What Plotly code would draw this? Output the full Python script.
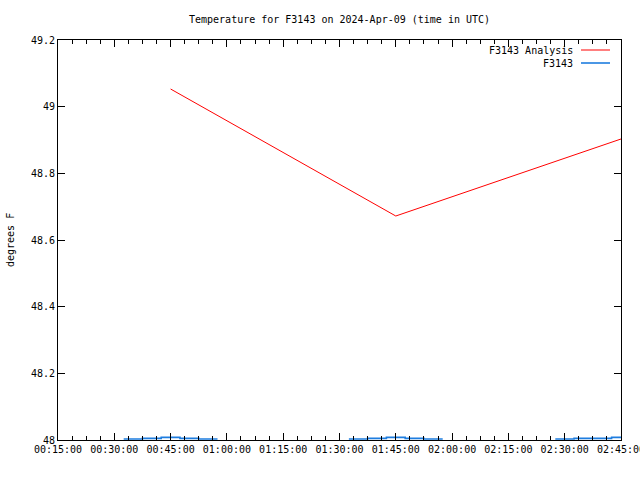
import plotly.graph_objects as go

# Analysis series
analysis_times = ["2024-04-09 00:45:00", "2024-04-09 01:45:00", "2024-04-09 02:45:00"]
analysis_temps = [49.053, 48.672, 48.903]

# Observed series (step segments near the bottom of the axis)
obs_times = [
    "2024-04-09 00:32:30", "2024-04-09 00:37:30", "2024-04-09 00:42:30",
    "2024-04-09 00:47:30", "2024-04-09 00:52:30", "2024-04-09 00:57:30",
    None,
    "2024-04-09 01:32:30", "2024-04-09 01:37:30", "2024-04-09 01:42:30",
    "2024-04-09 01:47:30", "2024-04-09 01:52:30", "2024-04-09 01:57:30",
    None,
    "2024-04-09 02:27:30", "2024-04-09 02:32:30", "2024-04-09 02:42:30",
    "2024-04-09 02:50:00",
]
obs_temps = [
    48.003, 48.005, 48.008, 48.005, 48.003, 48.003,
    None,
    48.003, 48.005, 48.008, 48.005, 48.003, 48.003,
    None,
    48.003, 48.005, 48.008, 48.008,
]

tick_vals = ["2024-04-09 00:15:00", "2024-04-09 00:30:00", "2024-04-09 00:45:00",
             "2024-04-09 01:00:00", "2024-04-09 01:15:00", "2024-04-09 01:30:00",
             "2024-04-09 01:45:00", "2024-04-09 02:00:00", "2024-04-09 02:15:00",
             "2024-04-09 02:30:00", "2024-04-09 02:45:00"]
tick_text = ["00:15:00", "00:30:00", "00:45:00", "01:00:00", "01:15:00", "01:30:00",
             "01:45:00", "02:00:00", "02:15:00", "02:30:00", "02:45:00"]
y_ticks = [48, 48.2, 48.4, 48.6, 48.8, 49, 49.2]
y_text = ["48", "48.2", "48.4", "48.6", "48.8", "49", "49.2"]

FONT = "DejaVu Sans Mono"
RED = "#ff0000"
BLUE = "#1e7ddf"

fig = go.Figure()
fig.add_trace(go.Scatter(x=analysis_times, y=analysis_temps, mode="lines",
                         name="F3143 Analysis", line=dict(color=RED, width=1)))
fig.add_trace(go.Scatter(x=obs_times, y=obs_temps, mode="lines", name="F3143",
                         line=dict(color=BLUE, width=1.6, shape="hv"), connectgaps=False))

fig.update_layout(
    width=640, height=480,
    margin=dict(l=58, r=19, t=40, b=40, autoexpand=False),
    paper_bgcolor="white", plot_bgcolor="white",
    showlegend=False,
    font=dict(family=FONT, size=10, color="black"),
    title=dict(text="Temperature for F3143 on 2024-Apr-09 (time in UTC)",
               x=0.5305, xanchor="center", y=1 - 19 / 480, yanchor="middle",
               font=dict(family=FONT, size=10, color="black")),
)
fig.update_xaxes(
    type="date", automargin=False,
    range=["2024-04-09 00:15:00", "2024-04-09 02:45:00.2"],
    tickmode="array", tickvals=tick_vals, ticktext=tick_text,
    ticklabeloverflow="allow",
    ticks="inside", ticklen=7, tickcolor="black", tickwidth=1,
    showline=True, linecolor="black", linewidth=1, mirror="allticks",
    showgrid=False, zeroline=False,
    minor=dict(dtick=225000, tick0="2024-04-09 00:15:00", ticks="inside",
               ticklen=4, tickcolor="black", showgrid=False),
    tickfont=dict(family=FONT, size=10),
)
fig.update_yaxes(
    range=[48, 49.2], automargin=False,
    tickmode="array", tickvals=y_ticks, ticktext=y_text,
    ticks="inside", ticklen=7, tickcolor="black", tickwidth=1,
    showline=True, linecolor="black", linewidth=1, mirror="allticks",
    showgrid=False, zeroline=False,
    tickfont=dict(family=FONT, size=10),
)

# y-axis label
fig.add_annotation(text="degrees F", xref="paper", yref="paper",
                   x=-48 / 563, y=0.5, xanchor="center", yanchor="middle",
                   textangle=-90, showarrow=False,
                   font=dict(family=FONT, size=10, color="black"))

# legend (text right aligned, sample line to the right)
legend_items = [("F3143 Analysis", RED), ("F3143", BLUE)]
for i, (label, color) in enumerate(legend_items):
    ypix = 50 + i * 13
    yp = 1 - (ypix - 40) / 400
    fig.add_annotation(text=label, xref="paper", yref="paper",
                       x=(575 - 58) / 563, y=yp, xanchor="right", yanchor="middle",
                       showarrow=False, font=dict(family=FONT, size=10, color="black"))
    fig.add_shape(type="line", xref="paper", yref="paper",
                  x0=(581 - 58) / 563, x1=(610 - 58) / 563, y0=yp, y1=yp,
                  line=dict(color=color, width=1 if i == 0 else 1.6))

fig.write_html("out.html")
